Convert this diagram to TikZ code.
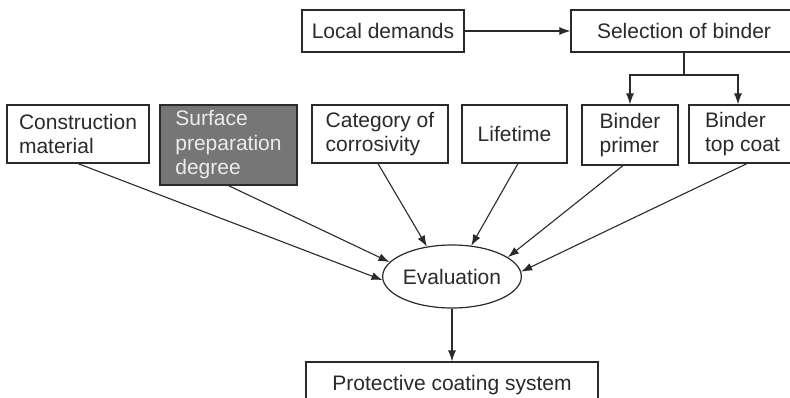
\documentclass[tikz,border=0pt]{standalone}
\usepackage{fontspec}
\setmainfont{Liberation Sans}
\usetikzlibrary{arrows.meta,shapes.geometric}
\definecolor{ink}{HTML}{2A2A2A}
\definecolor{shade}{HTML}{767676}
\definecolor{pale}{HTML}{ECECEC}
\tikzset{
  box/.style={draw=ink, line width=1.2pt, rectangle, inner sep=0pt, align=left,
    font=\fontsize{21}{24.5}\selectfont, text=ink},
  darkbox/.style={box, fill=shade, text=pale},
  oval/.style={draw=ink, line width=1.2pt, ellipse, inner sep=0pt,
    minimum width=124pt, minimum height=63pt, font=\fontsize{21}{24.5}\selectfont, text=ink},
  conn/.style={draw=ink, line width=1.1pt},
  arr/.style={conn, -{Latex[length=11pt,width=8pt]}}
}
\begin{document}
\begin{tikzpicture}[x=1pt,y=-1pt]
\clip (0,0) rectangle (790,398);
\fill[white] (0,0) rectangle (790,398);
\node[box, minimum width=162pt, minimum height=42pt] (loc) at (383,31) {Local demands};
\node[box, minimum width=226pt, minimum height=42pt] (sel) at (684,31) {Selection of binder};
\node[box, minimum width=142pt, minimum height=58pt] (cm) at (78,134) {Construction\\material};
\node[darkbox, minimum width=137pt, minimum height=80pt] (sp) at (228.5,145) {Surface\\preparation\\degree};
\node[box, minimum width=136pt, minimum height=58pt] (cat) at (380,134) {Category of\\corrosivity};
\node[box, minimum width=105pt, minimum height=58pt] (life) at (514.5,134) {Lifetime};
\node[box, minimum width=96pt, minimum height=60pt] (bp) at (630,135) {Binder\\primer};
\node[box, minimum width=107pt, minimum height=58pt] (tc) at (742.5,134) {Binder\\top coat};
\node[oval] (ev) at (452,276.5) {Evaluation};
\node[box, minimum width=292pt, minimum height=46pt] (pcs) at (452,385) {Protective coating system};
\coordinate (j) at (684,75);
\draw[arr] (loc.east) -- (sel.west);
\draw[conn] (sel.south) -- (j);
\draw[arr] (j) -| (bp.north);
\draw[arr] (j) -| ([xshift=-4.5pt]tc.north);
\draw[arr] (cm.south) -- (ev.183);
\draw[arr] (sp.south) -- (ev.167);
\draw[arr] ([xshift=-2pt]cat.south) -- (ev.130);
\draw[arr] ([xshift=3.5pt]life.south) -- (ev.58);
\draw[arr] ([xshift=-7pt]bp.south) -- (ev.19);
\draw[arr] ([xshift=4.5pt]tc.south) -- (ev.4);
\draw[arr] (ev.south) -- (pcs.north);
\end{tikzpicture}
\end{document}
